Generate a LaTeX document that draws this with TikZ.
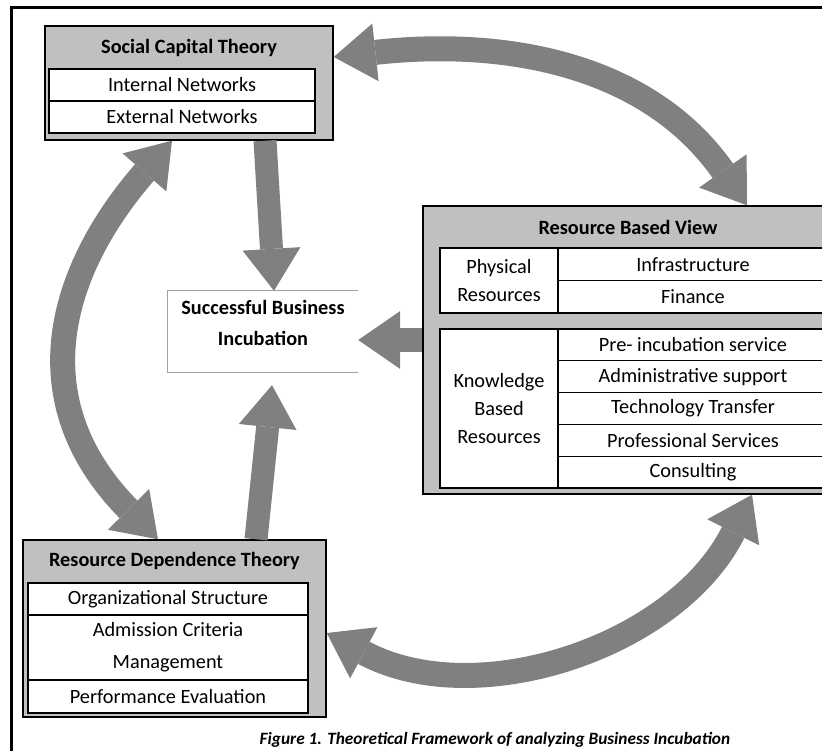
\documentclass[tikz,border=0pt]{standalone}
\usepackage{fontspec}
\setmainfont{Carlito}
\usetikzlibrary{arrows.meta}

\definecolor{boxgray}{RGB}{192,192,192}
\definecolor{arrowgray}{RGB}{128,128,128}
\definecolor{edgegray}{RGB}{160,160,160}

\tikzset{
  panel/.style={draw, fill=boxgray, line width=1.4pt, inner sep=0pt},
  cellbox/.style={draw, fill=white, line width=1.2pt, inner sep=0pt, align=center,
                  font=\fontsize{20.3}{28}\selectfont},
  sctrow/.style={cellbox, minimum width=266pt, minimum height=32pt},
  rbvleft/.style={cellbox, minimum width=118pt},
  rbvrow/.style={cellbox, minimum width=270pt, minimum height=31.8pt},
  rdtrow/.style={cellbox, minimum width=280pt},
  boxtitle/.style={font=\bfseries\fontsize{20.3}{31}\selectfont, align=center},
  fat/.style={draw=arrowgray, line width=23pt, ->},
  fatcurve/.style={draw=arrowgray, line width=25pt, <->}
}

\begin{document}
\begin{tikzpicture}[x=1pt, y=-1pt, >={Triangle[length=42pt,width=58pt,line width=0pt]}]
\useasboundingbox (0,0) rectangle (822,751);
%
         \draw [line width=2.6pt] (11.5,751) -- (11.5,7.5) -- (822,7.5);

         \node [panel, minimum width=288pt, minimum height=114pt] (SCT) at (189,83) {};
         \node [boxtitle] (SCTt) at (189,48) {Social Capital Theory};
         \node [sctrow] (SCTa) at (182,85)  {Internal Networks};
         \node [sctrow] (SCTb) at (182,117) {External Networks};

         \node [panel, minimum width=410pt, minimum height=288pt] (RBV) at (628,350) {};
         \node [boxtitle] (RBVt) at (628,227) {Resource Based View};
         \node [rbvleft, minimum height=65pt] (PR) at (499,280.5) {Physical\\Resources};
         \node [rbvrow, minimum height=32.5pt] (PRa) at (693,264.25) {Infrastructure};
         \node [rbvrow, minimum height=32.5pt] (PRb) at (693,296.75) {Finance};
         \node [rbvleft, minimum height=159pt] (KR) at (499,408.5) {Knowledge\\Based\\Resources};
         \node [rbvrow] (KRa) at (693,344.9) {Pre- incubation service};
         \node [rbvrow] (KRb) at (693,376.7) {Administrative support};
         \node [rbvrow] (KRc) at (693,408.5) {Technology Transfer};
         \node [rbvrow] (KRd) at (693,440.3) {Professional Services};
         \node [rbvrow] (KRe) at (693,472.1) {Consulting};

         \node [panel, minimum width=303pt, minimum height=177pt] (RDT) at (174.5,628.5) {};
         \node [boxtitle] (RDTt) at (174.5,561) {Resource Dependence Theory};
         \node [rdtrow, minimum height=32pt] (RDTa) at (168,599) {Organizational Structure};
         \node [rdtrow, minimum height=65pt, font=\fontsize{20.3}{32}\selectfont] (RDTb) at (168,647.5) {Admission Criteria\\Management};
         \node [rdtrow, minimum height=33pt] (RDTc) at (168,696.5) {Performance Evaluation};

         \node [minimum width=190pt, minimum height=81pt, inner sep=0pt] (SBI) at (263,331.5) {};
         \node [boxtitle] (SBIt) at (263,322.5) {Successful Business\\Incubation};
         \draw [edgegray, line width=1pt] (SBI.north east) -- (SBI.north west) -- (SBI.south west) -- (SBI.south east);

         \node [font=\bfseries\itshape\fontsize{17.3}{20}\selectfont] (CAP) at (495,740)
               {Figure 1. Theoretical Framework of analyzing Business Incubation};

         \draw [fat] ([xshift=76pt]SCT.south) -- ([xshift=11pt]SBI.north);
         \draw [fat] ([xshift=81.5pt]RDT.north) -- ([xshift=9pt,yshift=-13pt]SBI.south);
         \draw [fat] ([yshift=10pt]RBV.west) -- ([yshift=-8.5pt]SBI.east);

         \draw [fatcurve] ([yshift=26pt]SCT.east) .. controls +(172,-19) and +(-99,-141) .. ([xshift=119pt]RBV.north);
         \draw [fatcurve] ([xshift=-17pt]SCT.south) .. controls +(-112,129) and +(-138,-140) .. ([xshift=-16.5pt]RDT.north);
         \draw [fatcurve] ([yshift=-4.5pt]RDT.east) .. controls +(150,80) and +(-76,152) .. ([xshift=124pt]RBV.south);

\end{tikzpicture}
\end{document}
